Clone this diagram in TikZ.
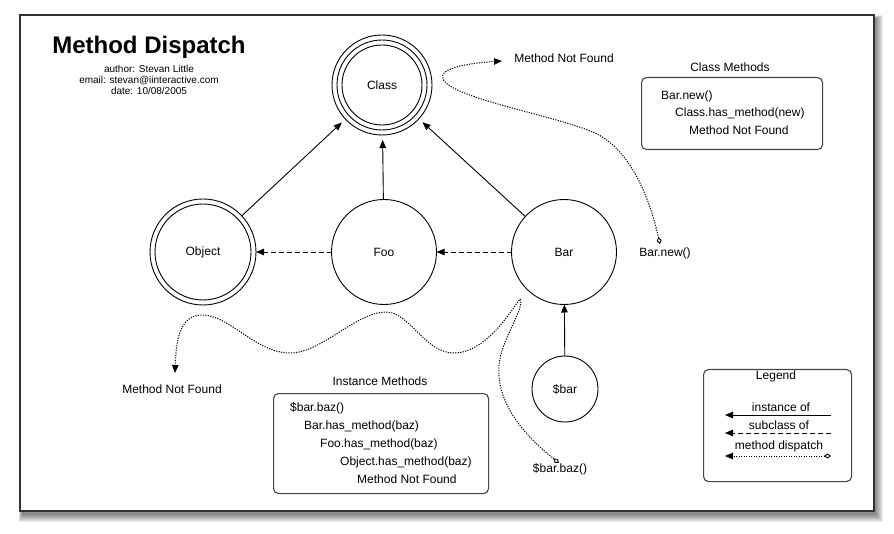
\documentclass[tikz,border=0pt]{standalone}
\usepackage{fontspec}
\setmainfont{Liberation Sans}
\usetikzlibrary{arrows.meta}

\tikzset{
  txt/.style={font=\fontsize{12}{14}\selectfont, inner sep=1pt},
  leftline/.style={txt, anchor=west},
  circ/.style={txt, circle, draw, line width=0.9pt, inner sep=0pt, outer sep=0pt},
  ring/.style={line width=0.9pt},
  methbox/.style={draw=black!72, line width=1.1pt, rounded corners=5pt, fill=white},
  tipfill/.style={-{Triangle[length=8pt,width=6.5pt]}},
  instof/.style={line width=0.9pt, tipfill},
  subof/.style={line width=0.9pt, dash pattern=on 5pt off 3pt, tipfill},
  dispatch/.style={line width=1pt, dash pattern=on 1.2pt off 1.3pt,
    {Diamond[open,length=7pt,width=5pt,line width=0.9pt]}-{Triangle[length=8pt,width=6.5pt]}},
}

\begin{document}
\begin{tikzpicture}[x=1pt,y=-1pt]
\useasboundingbox (0,0) rectangle (894,534);
\fill[white] (0,0) rectangle (894,534);

% sheet with soft shadow
\foreach \i in {0,...,7}{
  \fill[black, opacity=0.07] ({22-\i*0.5},{19-\i*0.5}) rectangle ({876+\i},{515+\i});
}
\draw[fill=white, draw=black!80, line width=1.2pt] (20,15) rectangle (874,511);

% heading
\node[font=\fontsize{24}{28}\selectfont\bfseries] (title) at (149,47) {Method Dispatch};
\node[font=\fontsize{10}{11}\selectfont, align=center] (author) at (149,80)
  {author: Stevan Little\\email: stevan@iinteractive.com\\date: 10/08/2005};

% classes and instance
\node[circ, minimum size=100pt, outer sep=5pt] (class) at (382,85) {Class};
\draw[ring] (class.center) circle[radius=45];
\draw[ring] (class.center) circle[radius=40];

\node[circ, minimum size=106pt] (object) at (203,252) {Object};
\draw[ring] (object.center) circle[radius=48];

\node[circ, minimum size=105pt] (foo) at (384,252) {Foo};
\node[circ, minimum size=105pt] (bar) at (564,252) {Bar};
\node[circ, minimum size=66pt] (sbar) at (565,389) {\$bar};

% instance-of links
\draw[instof] (object) -- (class);
\draw[instof] (foo) -- (class);
\draw[instof] (bar) -- (class);
\draw[instof] (sbar) -- (bar);

% subclass-of links
\draw[subof] (foo) -- (object);
\draw[subof] (bar) -- (foo);

% class method dispatch
\node[txt] (barnew) at (665,253) {Bar.new()};
\node[txt] (mnfclass) at (564,58) {Method Not Found};
\coordinate (d1) at (660,244);
\coordinate (t1) at (502,61);
\draw[dispatch] (d1) .. controls (650,200) and (632,152) .. (597,134)
  .. controls (560,116) and (452,99) .. (443,79)
  .. controls (438,68) and (470,63) .. (t1);

% instance method dispatch
\node[txt] (barbaz) at (560,469) {\$bar.baz()};
\node[txt] (mnfinst) at (172,389) {Method Not Found};
\coordinate (d2) at (559,463);
\coordinate (t2) at (175,373);
\draw[dispatch] (d2) .. controls (520,432) and (496,400) .. (499,365)
  .. controls (501,340) and (526,306) .. (520,299)
  .. controls (514,306) and (488,352) .. (455,353)
  .. controls (425,354) and (410,312) .. (386,312)
  .. controls (356,312) and (322,353) .. (290,353)
  .. controls (255,353) and (228,313) .. (200,315)
  .. controls (178,317) and (176,345) .. (t2);

% class methods box
\node[txt] (cmtitle) at (730,67) {Class Methods};
\node[methbox, anchor=north west, minimum width=181pt, minimum height=72pt] (cmbox) at (641,77) {};
\node[leftline] (cm1) at (660,96.5) {Bar.new()};
\node[leftline] (cm2) at (674,113.5) {Class.has\_method(new)};
\node[leftline] (cm3) at (688,130.5) {Method Not Found};

% instance methods box
\node[txt] (imtitle) at (380,381) {Instance Methods};
\node[methbox, anchor=north west, minimum width=215pt, minimum height=100pt] (imbox) at (273,393) {};
\node[leftline] (im1) at (289,408) {\$bar.baz()};
\node[leftline] (im2) at (303,426) {Bar.has\_method(baz)};
\node[leftline] (im3) at (319,444) {Foo.has\_method(baz)};
\node[leftline] (im4) at (339,462) {Object.has\_method(baz)};
\node[leftline] (im5) at (356,479) {Method Not Found};

% legend
\node[methbox, anchor=north west, minimum width=148pt, minimum height=112pt] (legend) at (703,369) {};
\node[txt] (legtitle) at (776,376) {Legend};
\node[txt] (leginst) at (781,407) {instance of};
\node[txt] (legsub) at (779,425) {subclass of};
\node[txt] (legdisp) at (779,446) {method dispatch};
\coordinate (la1) at (831,415);
\coordinate (lb1) at (725,415);
\coordinate (la2) at (831,433);
\coordinate (lb2) at (725,433);
\coordinate (la3) at (831,456);
\coordinate (lb3) at (725,456);
\draw[instof] (la1) -- (lb1);
\draw[subof] (la2) -- (lb2);
\draw[dispatch] (la3) -- (lb3);
\end{tikzpicture}
\end{document}
